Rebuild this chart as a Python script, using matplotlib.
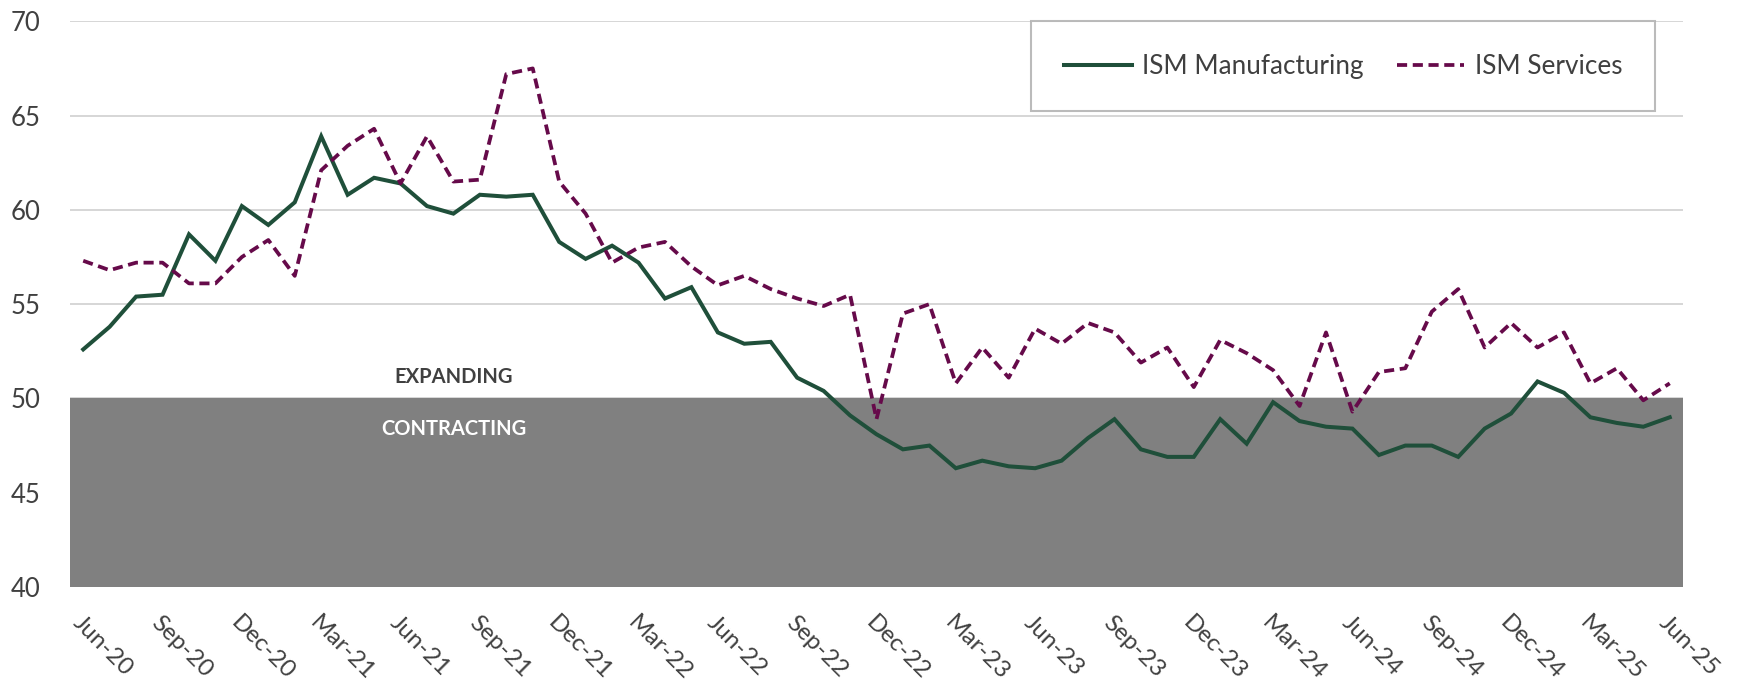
import matplotlib.pyplot as plt
import numpy as np

plt.rcParams['font.family'] = ['Lato', 'DejaVu Sans']

# monthly, Jun-20 .. Jun-25
months = ["Jun-20", "Jul-20", "Aug-20", "Sep-20", "Oct-20", "Nov-20", "Dec-20",
          "Jan-21", "Feb-21", "Mar-21", "Apr-21", "May-21", "Jun-21", "Jul-21",
          "Aug-21", "Sep-21", "Oct-21", "Nov-21", "Dec-21", "Jan-22", "Feb-22",
          "Mar-22", "Apr-22", "May-22", "Jun-22", "Jul-22", "Aug-22", "Sep-22",
          "Oct-22", "Nov-22", "Dec-22", "Jan-23", "Feb-23", "Mar-23", "Apr-23",
          "May-23", "Jun-23", "Jul-23", "Aug-23", "Sep-23", "Oct-23", "Nov-23",
          "Dec-23", "Jan-24", "Feb-24", "Mar-24", "Apr-24", "May-24", "Jun-24",
          "Jul-24", "Aug-24", "Sep-24", "Oct-24", "Nov-24", "Dec-24", "Jan-25",
          "Feb-25", "Mar-25", "Apr-25", "May-25", "Jun-25"]

manufacturing = [52.6, 53.8, 55.4, 55.5, 58.7, 57.3, 60.2, 59.2, 60.4, 63.9,
                 60.8, 61.7, 61.4, 60.2, 59.8, 60.8, 60.7, 60.8, 58.3, 57.4,
                 58.1, 57.2, 55.3, 55.9, 53.5, 52.9, 53.0, 51.1, 50.4, 49.1,
                 48.1, 47.3, 47.5, 46.3, 46.7, 46.4, 46.3, 46.7, 47.9, 48.9,
                 47.3, 46.9, 46.9, 48.9, 47.6, 49.8, 48.8, 48.5, 48.4, 47.0,
                 47.5, 47.5, 46.9, 48.4, 49.2, 50.9, 50.3, 49.0, 48.7, 48.5,
                 49.0]

services = [57.3, 56.8, 57.2, 57.2, 56.1, 56.1, 57.5, 58.4, 56.5, 62.1,
            63.4, 64.3, 61.4, 63.9, 61.5, 61.6, 67.2, 67.5, 61.5, 59.8,
            57.2, 58.0, 58.3, 57.0, 56.0, 56.5, 55.8, 55.3, 54.9, 55.5,
            48.9, 54.5, 55.0, 50.8, 52.7, 51.1, 53.7, 52.9, 54.0, 53.5,
            51.9, 52.7, 50.6, 53.1, 52.4, 51.5, 49.6, 53.5, 49.3, 51.4,
            51.6, 54.6, 55.8, 52.7, 54.0, 52.7, 53.5, 50.8, 51.6, 49.9,
            50.8]

x = np.arange(len(months))

fig = plt.figure(figsize=(17.5, 6.84), dpi=100)
ax = fig.add_axes([0.04, 0.1418, 0.9217, 0.8271])

ax.axhspan(40, 50, color='#808080', zorder=1, lw=0)
ax.plot(x, manufacturing, color='#1F4F3A', lw=2.9, label='ISM Manufacturing',
        zorder=3, solid_joinstyle='miter')
ax.plot(x, services, color='#660A4A', lw=2.7, dashes=(2.7, 1.5),
        label='ISM Services', zorder=3)

ax.set_xlim(-0.5, len(months) - 0.5)
ax.set_ylim(40, 70)
ax.set_yticks(range(40, 71, 5))
ax.grid(axis='y', color='#D0D0D0', lw=1.2, zorder=0)
ax.set_axisbelow(True)
for s in ax.spines.values():
    s.set_visible(False)

ax.set_xticks(x[::3])
ax.set_xticklabels(months[::3], rotation=-45, ha='left', va='top',
                   rotation_mode='anchor')
ax.tick_params(axis='x', length=0, pad=18, labelsize=17.5, labelcolor='#404040')
ax.tick_params(axis='y', length=0, pad=21, labelsize=18.5, labelcolor='#404040')

ax.text(14, 51.15, 'EXPANDING', ha='center', va='center', fontsize=14.5,
        fontweight='bold', color='#404040')
ax.text(14, 48.4, 'CONTRACTING', ha='center', va='center', fontsize=14.5,
        fontweight='bold', color='white', zorder=2)

leg = ax.legend(loc='upper right', bbox_to_anchor=(1655 / 1750, 1 - 21 / 684),
                bbox_transform=fig.transFigure, ncol=2, fontsize=18.8,
                frameon=True, fancybox=False, borderpad=1.25, handlelength=2.6,
                handletextpad=0.4, columnspacing=1.25, borderaxespad=0)
leg.get_frame().set_edgecolor('#AAAAAA')
leg.get_frame().set_linewidth(1.5)
for t in leg.get_texts():
    t.set_color('#404040')

fig.savefig('out.png', dpi=100)
